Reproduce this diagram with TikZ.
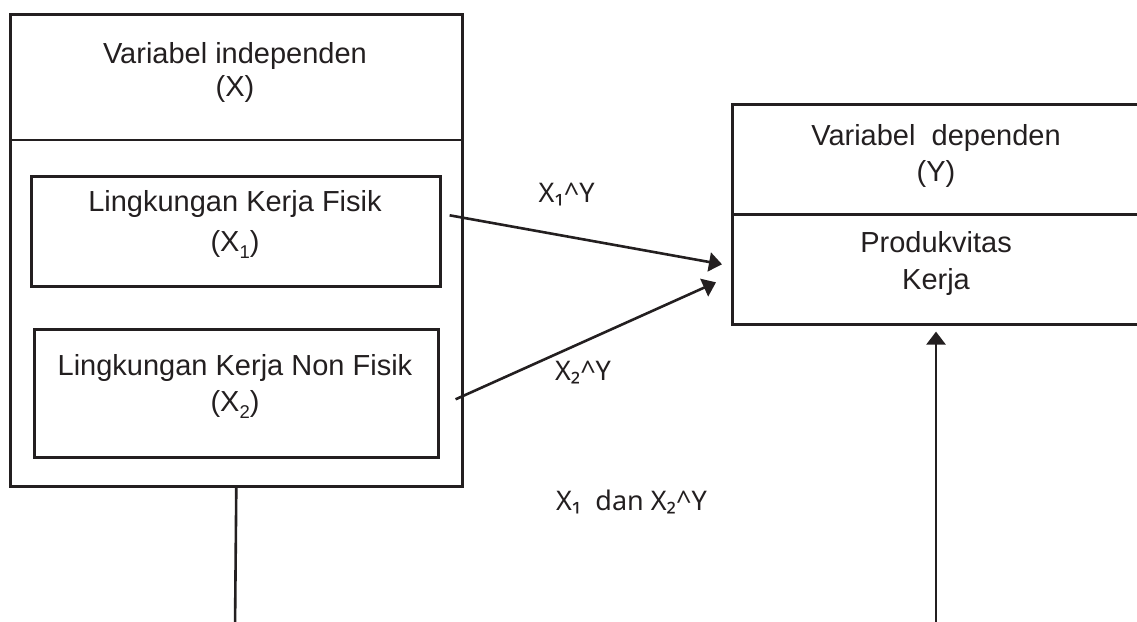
\documentclass[tikz,border=0pt]{standalone}
\usepackage{fontspec}
\setmainfont{Liberation Sans}
\newfontfamily\labelfont{Noto Sans}
\usetikzlibrary{arrows.meta,calc}
\definecolor{ink}{HTML}{231F20}

% lowered, smaller index digit inside box captions
\newcommand{\lowidx}[1]{\raisebox{-7pt}{\fontsize{18.5}{18.5}\selectfont #1}}

\begin{document}
\begin{tikzpicture}[x=1pt,y=-1pt,
  frame/.style={draw=ink, line width=2.6pt, inner sep=0pt, anchor=north west},
  caption/.style={text=ink, font=\fontsize{29}{34}\selectfont, inner sep=0pt, anchor=base},
  linklabel/.style={text=ink, font=\labelfont\fontsize{27}{30}\selectfont, inner sep=0pt, anchor=base},
  wire/.style={draw=ink, line width=2.6pt},
  link/.style={wire, -{Triangle[length=13pt,width=19pt]}}]
\useasboundingbox (0,0) rectangle (1137,621);
\clip (0,0) rectangle (1137,621);

% independent variable block
\node[frame, minimum width=452, minimum height=472] (indep) at (9,13) {};
\draw[wire] (9,140) -- (461,140);
\node[frame, minimum width=409, minimum height=110] (fisik) at (30,175) {};
\node[frame, minimum width=404, minimum height=128] (nonfisik) at (33,328) {};

\node[caption] (indepT1) at (235,63.3) {Variabel independen};
\node[caption] (indepT2) at (235,96.7) {(X)};
\node[caption] (fisikT1) at (235,211.7) {Lingkungan Kerja Fisik};
\node[caption] (fisikT2) at (235,251) {(X\lowidx{1})};
\node[caption] (nonfisikT1) at (235,375) {Lingkungan Kerja Non Fisik};
\node[caption] (nonfisikT2) at (235,411.7) {(X\lowidx{2})};

% dependent variable block (runs on past the right edge)
\node[frame, minimum width=430, minimum height=110] (dep) at (731,103) {};
\node[frame, minimum width=430, minimum height=110] (prod) at (731,213) {};

\node[caption] (depT1) at (936,145) {Variabel~ dependen};
\node[caption] (depT2) at (936,181.7) {(Y)};
\node[caption] (prodT1) at (936,252.7) {Produkvitas};
\node[caption] (prodT2) at (936,289.3) {Kerja};

% connectors
\draw[link] ($(fisik.east)+(8,-16)$) -- ($(prod.west)+(-9,-5)$);
\draw[link] ($(nonfisik.east)+(16,6)$) -- ($(prod.west)+(-15,13)$);

\coordinate (stemA) at (235,630);
\coordinate (stemB) at (936,630);
\draw[wire] (indep.south) -- (stemA);
\draw[link] (stemB) -- ($(prod.south west)+(205,6)$);

% relation labels
\node[linklabel] (lab1) at (566.7,202.7) {X₁\^{}Y};
\node[linklabel] (lab2) at (583,380.7) {X₂\^{}Y};
\node[linklabel] (lab3) at (631.5,510) {X₁~ dan X₂\^{}Y};
\end{tikzpicture}
\end{document}
